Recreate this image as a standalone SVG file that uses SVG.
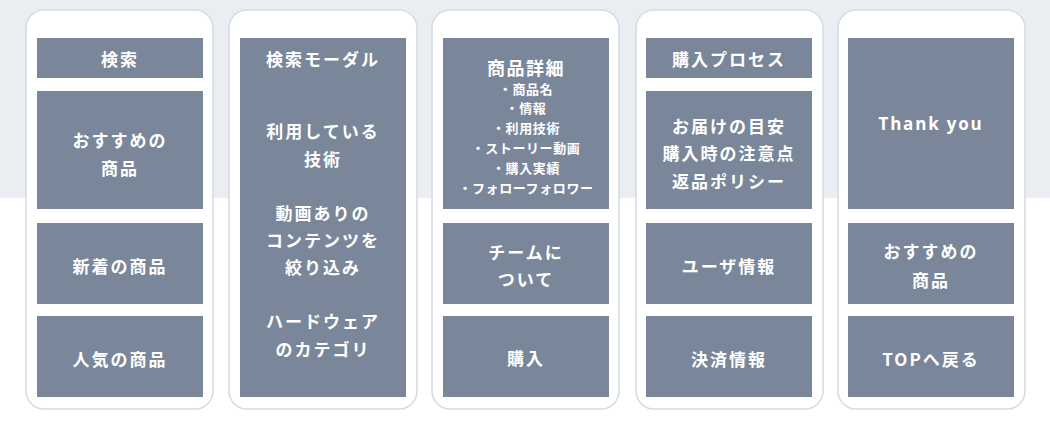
<svg xmlns="http://www.w3.org/2000/svg" width="1050" height="421" viewBox="0 0 1050 421">
<style>
.card{fill:#ffffff;stroke:#d6dce3;stroke-width:1.6}
.box{fill:#7a879a}
text{fill:#ffffff;font-family:"Noto Sans CJK JP","Noto Sans",sans-serif;font-weight:700;font-size:17px;letter-spacing:2px;text-anchor:middle;dominant-baseline:central}
.sub{font-size:13px;letter-spacing:0.6px}
.big{font-size:18px;letter-spacing:1.5px}
.en{font-family:"Open Sans","Noto Sans",sans-serif;letter-spacing:1.8px}
</style>
<rect x="0" y="0" width="1050" height="421" fill="#ffffff"/>
<rect x="0" y="0" width="1050" height="198" fill="#eaeef3"/>
<g id="screen-top">
<rect class="card" x="26" y="10" width="187" height="399" rx="18"/>
<rect class="box" x="37" y="38" width="166" height="40"/>
<text x="120" y="58">検索</text>
<rect class="box" x="37" y="91" width="166" height="118"/>
<text x="120" y="139">おすすめの</text>
<text x="120" y="167">商品</text>
<rect class="box" x="37" y="223" width="166" height="81"/>
<text x="120" y="265">新着の商品</text>
<rect class="box" x="37" y="316" width="166" height="81"/>
<text x="120" y="358">人気の商品</text>
</g>
<g id="screen-search">
<rect class="card" x="229" y="10" width="188" height="399" rx="18"/>
<rect class="box" x="240" y="38" width="166" height="40"/>
<rect class="box" x="240" y="78" width="166" height="319"/>
<text x="323" y="58">検索モーダル</text>
<text x="323" y="130">利用している</text>
<text x="323" y="158">技術</text>
<text x="323" y="212">動画ありの</text>
<text x="323" y="239">コンテンツを</text>
<text x="323" y="266">絞り込み</text>
<text x="323" y="320">ハードウェア</text>
<text x="323" y="348">のカテゴリ</text>
</g>
<g id="screen-detail">
<rect class="card" x="432" y="10" width="187" height="399" rx="18"/>
<rect class="box" x="443" y="38" width="166" height="171"/>
<text class="big" x="526" y="67">商品詳細</text>
<text class="sub" x="526" y="88">・商品名</text>
<text class="sub" x="526" y="107">・情報</text>
<text class="sub" x="526" y="127">・利用技術</text>
<text class="sub" x="526" y="147">・ストーリー動画</text>
<text class="sub" x="526" y="167">・購入実績</text>
<text class="sub" x="526" y="187">・フォローフォロワー</text>
<rect class="box" x="443" y="223" width="166" height="81"/>
<text x="526" y="251">チームに</text>
<text x="526" y="278">ついて</text>
<rect class="box" x="443" y="316" width="166" height="81"/>
<text x="526" y="357">購入</text>
</g>
<g id="screen-purchase">
<rect class="card" x="636" y="10" width="187" height="399" rx="18"/>
<rect class="box" x="646" y="38" width="166" height="40"/>
<text x="729" y="58">購入プロセス</text>
<rect class="box" x="646" y="91" width="166" height="118"/>
<text x="729" y="125">お届けの目安</text>
<text x="729" y="152">購入時の注意点</text>
<text x="729" y="180">返品ポリシー</text>
<rect class="box" x="646" y="223" width="166" height="81"/>
<text x="729" y="265">ユーザ情報</text>
<rect class="box" x="646" y="316" width="166" height="81"/>
<text x="729" y="358">決済情報</text>
</g>
<g id="screen-thanks">
<rect class="card" x="838" y="10" width="187" height="399" rx="18"/>
<rect class="box" x="848" y="38" width="166" height="171"/>
<text class="en" x="931" y="123">Thank you</text>
<rect class="box" x="848" y="223" width="166" height="81"/>
<text x="931" y="250">おすすめの</text>
<text x="931" y="279">商品</text>
<rect class="box" x="848" y="316" width="166" height="81"/>
<text x="931" y="358">TOPへ戻る</text>
</g>
<g id="connectors"/>
</svg>
